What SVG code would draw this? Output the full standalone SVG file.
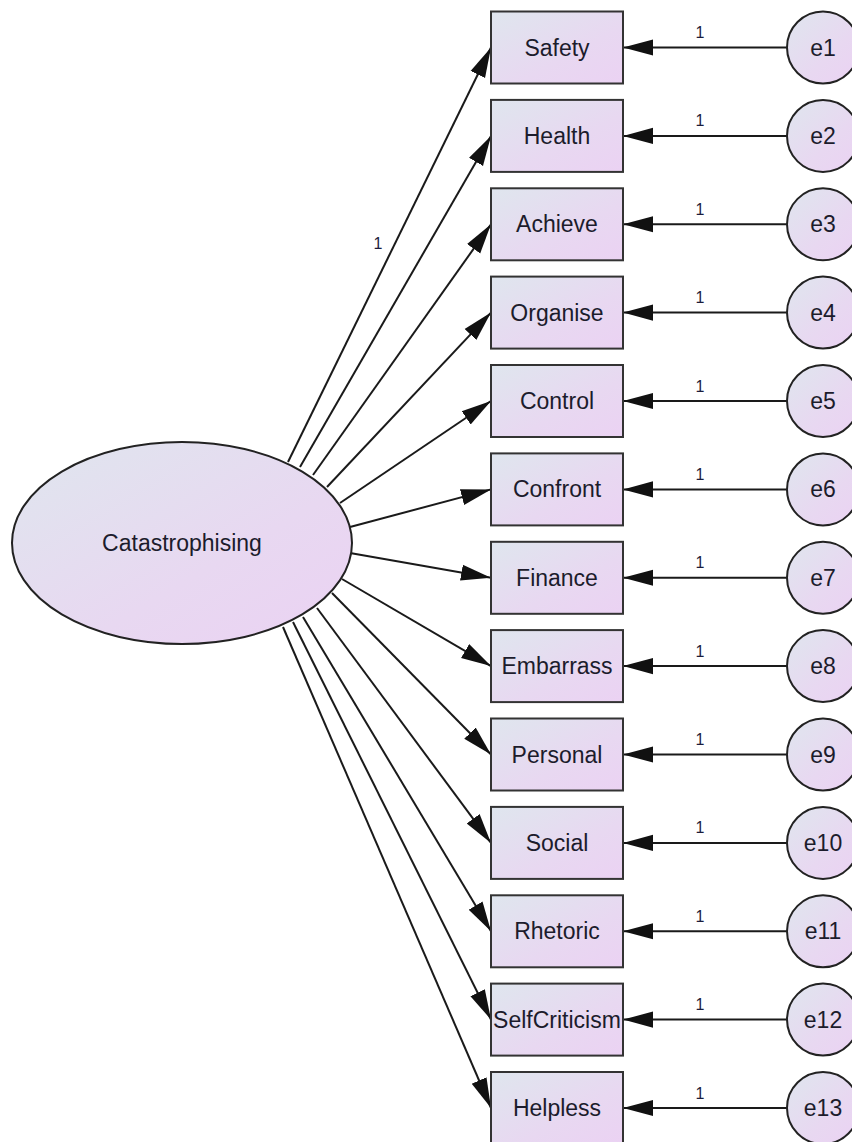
<svg xmlns="http://www.w3.org/2000/svg" width="852" height="1142" viewBox="0 0 852 1142">
<defs>
<linearGradient id="g" x1="0" y1="0" x2="1" y2="1">
<stop offset="0" stop-color="#dfe6ee"/>
<stop offset="0.6" stop-color="#e8d8f1"/>
<stop offset="1" stop-color="#ebd2f3"/>
</linearGradient>
<marker id="ah" markerUnits="userSpaceOnUse" markerWidth="30" markerHeight="18" viewBox="0 -8 28 16" refX="28" refY="0" orient="auto">
<path d="M0,-7.5 L28,0 L0,7.5 z" fill="#111"/>
</marker>
<style>
.box{fill:url(#g);stroke:#333;stroke-width:2}
.ell{fill:url(#g);stroke:#222;stroke-width:2}
.t{font-family:"Liberation Sans",Arial,sans-serif;font-size:23px;fill:#1c1c2c;text-anchor:middle}
.w{font-family:"Liberation Sans",Arial,sans-serif;font-size:16px;fill:#1c1c3c;text-anchor:middle}
.c line{stroke:#1a1a1a;stroke-width:2;marker-end:url(#ah)}
.h line{stroke:#333;stroke-width:2.5}
</style>
</defs>
<rect width="852" height="1142" fill="#fff"/>
<g id="connectors">
<g class="c">
<line x1="288" y1="462" x2="491" y2="47.5"/>
<line x1="300" y1="467" x2="491" y2="135.9"/>
<line x1="313" y1="475" x2="491" y2="224.3"/>
<line x1="327" y1="487" x2="491" y2="312.6"/>
<line x1="340" y1="503" x2="491" y2="401"/>
<line x1="350" y1="527" x2="491" y2="489.4"/>
<line x1="350" y1="553" x2="491" y2="577.8"/>
<line x1="342" y1="579" x2="491" y2="666.1"/>
<line x1="332" y1="593" x2="491" y2="754.5"/>
<line x1="317" y1="608" x2="491" y2="842.9"/>
<line x1="303" y1="617" x2="491" y2="931.3"/>
<line x1="293" y1="622" x2="491" y2="1019.6"/>
<line x1="283" y1="627" x2="491" y2="1108"/>
<line x1="787" y1="47.5" x2="623" y2="47.5"/>
<line x1="787" y1="135.9" x2="623" y2="135.9"/>
<line x1="787" y1="224.3" x2="623" y2="224.3"/>
<line x1="787" y1="312.6" x2="623" y2="312.6"/>
<line x1="787" y1="401" x2="623" y2="401"/>
<line x1="787" y1="489.4" x2="623" y2="489.4"/>
<line x1="787" y1="577.8" x2="623" y2="577.8"/>
<line x1="787" y1="666.1" x2="623" y2="666.1"/>
<line x1="787" y1="754.5" x2="623" y2="754.5"/>
<line x1="787" y1="842.9" x2="623" y2="842.9"/>
<line x1="787" y1="931.3" x2="623" y2="931.3"/>
<line x1="787" y1="1019.6" x2="623" y2="1019.6"/>
<line x1="787" y1="1108" x2="623" y2="1108"/>
</g>
<text class="w" x="378" y="249">1</text>
<text class="w" x="700" y="38">1</text>
<text class="w" x="700" y="126.4">1</text>
<text class="w" x="700" y="214.8">1</text>
<text class="w" x="700" y="303.1">1</text>
<text class="w" x="700" y="391.5">1</text>
<text class="w" x="700" y="479.9">1</text>
<text class="w" x="700" y="568.3">1</text>
<text class="w" x="700" y="656.6">1</text>
<text class="w" x="700" y="745">1</text>
<text class="w" x="700" y="833.4">1</text>
<text class="w" x="700" y="921.8">1</text>
<text class="w" x="700" y="1010.1">1</text>
<text class="w" x="700" y="1098.5">1</text>
</g>
<g id="Catastrophising"><ellipse class="ell" cx="182" cy="543" rx="170" ry="101"/><text class="t" x="182" y="551">Catastrophising</text></g>
<g id="Safety"><rect class="box" x="491" y="11.5" width="132" height="72"/><text class="t" x="557" y="55.5">Safety</text></g>
<g id="Health"><rect class="box" x="491" y="99.9" width="132" height="72"/><text class="t" x="557" y="143.9">Health</text></g>
<g id="Achieve"><rect class="box" x="491" y="188.3" width="132" height="72"/><text class="t" x="557" y="232.3">Achieve</text></g>
<g id="Organise"><rect class="box" x="491" y="276.6" width="132" height="72"/><text class="t" x="557" y="320.6">Organise</text></g>
<g id="Control"><rect class="box" x="491" y="365" width="132" height="72"/><text class="t" x="557" y="409">Control</text></g>
<g id="Confront"><rect class="box" x="491" y="453.4" width="132" height="72"/><text class="t" x="557" y="497.4">Confront</text></g>
<g id="Finance"><rect class="box" x="491" y="541.8" width="132" height="72"/><text class="t" x="557" y="585.8">Finance</text></g>
<g id="Embarrass"><rect class="box" x="491" y="630.1" width="132" height="72"/><text class="t" x="557" y="674.1">Embarrass</text></g>
<g id="Personal"><rect class="box" x="491" y="718.5" width="132" height="72"/><text class="t" x="557" y="762.5">Personal</text></g>
<g id="Social"><rect class="box" x="491" y="806.9" width="132" height="72"/><text class="t" x="557" y="850.9">Social</text></g>
<g id="Rhetoric"><rect class="box" x="491" y="895.3" width="132" height="72"/><text class="t" x="557" y="939.3">Rhetoric</text></g>
<g id="SelfCriticism"><rect class="box" x="491" y="983.6" width="132" height="72"/><text class="t" x="557" y="1027.6">SelfCriticism</text></g>
<g id="Helpless"><rect class="box" x="491" y="1072" width="132" height="72"/><text class="t" x="557" y="1116">Helpless</text></g>
<g id="e1"><circle class="ell" cx="823" cy="47.5" r="36"/><text class="t" x="823" y="55.5">e1</text></g>
<g id="e2"><circle class="ell" cx="823" cy="135.9" r="36"/><text class="t" x="823" y="143.9">e2</text></g>
<g id="e3"><circle class="ell" cx="823" cy="224.3" r="36"/><text class="t" x="823" y="232.3">e3</text></g>
<g id="e4"><circle class="ell" cx="823" cy="312.6" r="36"/><text class="t" x="823" y="320.6">e4</text></g>
<g id="e5"><circle class="ell" cx="823" cy="401" r="36"/><text class="t" x="823" y="409">e5</text></g>
<g id="e6"><circle class="ell" cx="823" cy="489.4" r="36"/><text class="t" x="823" y="497.4">e6</text></g>
<g id="e7"><circle class="ell" cx="823" cy="577.8" r="36"/><text class="t" x="823" y="585.8">e7</text></g>
<g id="e8"><circle class="ell" cx="823" cy="666.1" r="36"/><text class="t" x="823" y="674.1">e8</text></g>
<g id="e9"><circle class="ell" cx="823" cy="754.5" r="36"/><text class="t" x="823" y="762.5">e9</text></g>
<g id="e10"><circle class="ell" cx="823" cy="842.9" r="36"/><text class="t" x="823" y="850.9">e10</text></g>
<g id="e11"><circle class="ell" cx="823" cy="931.3" r="36"/><text class="t" x="823" y="939.3">e11</text></g>
<g id="e12"><circle class="ell" cx="823" cy="1019.6" r="36"/><text class="t" x="823" y="1027.6">e12</text></g>
<g id="e13"><circle class="ell" cx="823" cy="1108" r="36"/><text class="t" x="823" y="1116">e13</text></g>
</svg>
